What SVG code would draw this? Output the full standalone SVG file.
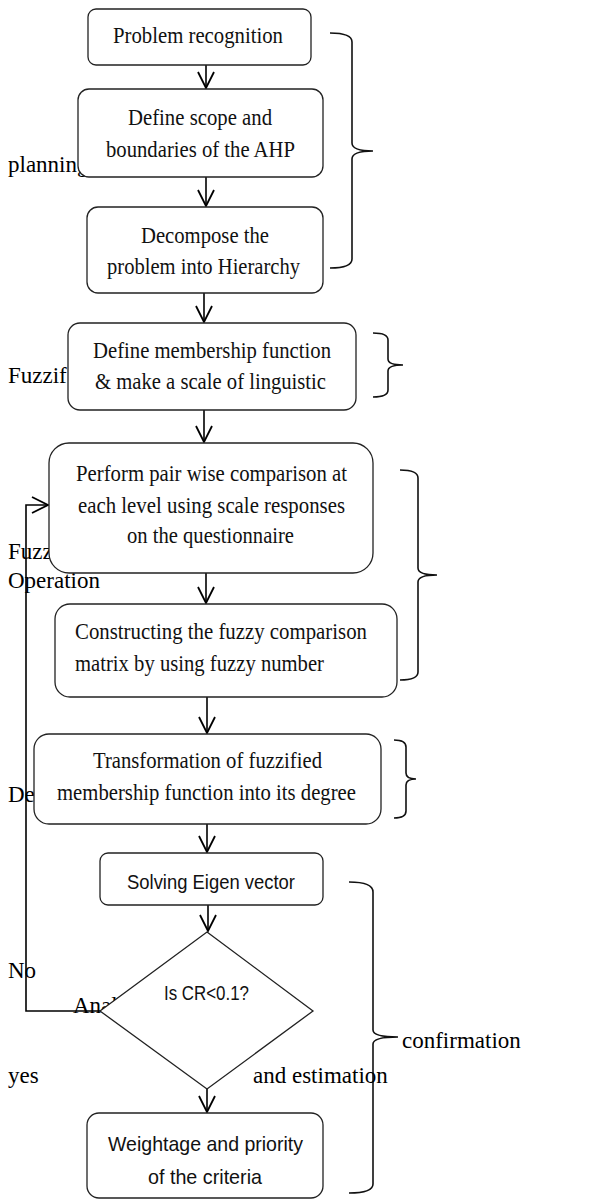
<svg xmlns="http://www.w3.org/2000/svg" width="603" height="1200" viewBox="0 0 603 1200">
<defs>
<style>
.lbl{font-family:"Liberation Serif","Times New Roman",serif;font-size:23px;fill:#000}
.bt{font-family:"Liberation Serif","Times New Roman",serif;font-size:24px;fill:#111}
.st{font-family:"Liberation Sans",Arial,sans-serif;font-size:21px;fill:#111}
.box{fill:#fff;stroke:#222;stroke-width:1.3}
.ln{fill:none;stroke:#000;stroke-width:1.6}
.br{fill:none;stroke:#111;stroke-width:1.6}
</style>
<marker id="ah" markerUnits="userSpaceOnUse" markerWidth="20" markerHeight="20" viewBox="-18 -10 20 20" refX="0" refY="0" orient="auto">
<path d="M-16,-8 L0,0 L-16,8" fill="none" stroke="#000" stroke-width="1.8"/>
</marker>
</defs>
<rect width="603" height="1200" fill="#fff"/>

<g id="labels">
<text class="lbl" x="8" y="172">planning</text>
<text class="lbl" x="8" y="383">Fuzzif</text>
<text class="lbl" x="8" y="559">Fuzzy</text>
<text class="lbl" x="8" y="588">Operation</text>
<text class="lbl" x="8" y="802">De</text>
<text class="lbl" x="8" y="978">No</text>
<text class="lbl" x="73" y="1013">Analysis</text>
<text class="lbl" x="8" y="1083">yes</text>
</g>

<g id="connectors">
<line class="ln" x1="206" y1="65" x2="206" y2="88" marker-end="url(#ah)"/>
<line class="ln" x1="206" y1="177" x2="206" y2="206" marker-end="url(#ah)"/>
<line class="ln" x1="204" y1="293" x2="204" y2="322" marker-end="url(#ah)"/>
<line class="ln" x1="204" y1="410" x2="204" y2="442" marker-end="url(#ah)"/>
<line class="ln" x1="206" y1="573" x2="206" y2="603" marker-end="url(#ah)"/>
<line class="ln" x1="207" y1="697" x2="207" y2="733" marker-end="url(#ah)"/>
<line class="ln" x1="207" y1="824" x2="207" y2="852" marker-end="url(#ah)"/>
<line class="ln" x1="208" y1="905" x2="208" y2="931" marker-end="url(#ah)"/>
<line class="ln" x1="207" y1="1089" x2="207" y2="1112" marker-end="url(#ah)"/>
<path class="ln" d="M100,1011 L26,1011 L26,505 L48,505" marker-end="url(#ah)"/>
</g>

<g id="n1"><rect class="box" x="88" y="9" width="223" height="56" rx="8"/>
<text class="bt" x="113" y="43" textLength="170" lengthAdjust="spacingAndGlyphs">Problem recognition</text></g>

<g id="n2"><rect class="box" x="78" y="89" width="245" height="88" rx="11"/>
<text class="bt" x="128" y="125" textLength="144" lengthAdjust="spacingAndGlyphs">Define scope and</text>
<text class="bt" x="106" y="157" textLength="189" lengthAdjust="spacingAndGlyphs">boundaries of the AHP</text></g>

<g id="n3"><rect class="box" x="87" y="207" width="236" height="86" rx="11"/>
<text class="bt" x="141" y="243" textLength="128" lengthAdjust="spacingAndGlyphs">Decompose the</text>
<text class="bt" x="107" y="274" textLength="193" lengthAdjust="spacingAndGlyphs">problem into Hierarchy</text></g>

<g id="n4"><rect class="box" x="68" y="323" width="288" height="87" rx="12"/>
<text class="bt" x="93" y="358" textLength="238" lengthAdjust="spacingAndGlyphs">Define membership function</text>
<text class="bt" x="95" y="389" textLength="231" lengthAdjust="spacingAndGlyphs">&amp; make a scale of linguistic</text></g>

<g id="n5"><rect class="box" x="49" y="443" width="324" height="130" rx="20"/>
<text class="bt" x="76" y="481" textLength="271" lengthAdjust="spacingAndGlyphs">Perform pair wise comparison at</text>
<text class="bt" x="78" y="513" textLength="267" lengthAdjust="spacingAndGlyphs">each level using scale responses</text>
<text class="bt" x="127" y="543" textLength="167" lengthAdjust="spacingAndGlyphs">on the questionnaire</text></g>

<g id="n6"><rect class="box" x="55" y="604" width="342" height="93" rx="15"/>
<text class="bt" x="75" y="639" textLength="292" lengthAdjust="spacingAndGlyphs">Constructing the fuzzy comparison</text>
<text class="bt" x="75" y="671" textLength="249" lengthAdjust="spacingAndGlyphs">matrix by using fuzzy number</text></g>

<g id="n7"><rect class="box" x="34" y="734" width="347" height="90" rx="15"/>
<text class="bt" x="93" y="768" textLength="229" lengthAdjust="spacingAndGlyphs">Transformation of fuzzified</text>
<text class="bt" x="57" y="800" textLength="299" lengthAdjust="spacingAndGlyphs">membership function into its degree</text></g>

<g id="n8"><rect class="box" x="100" y="853" width="223" height="52" rx="8"/>
<text class="st" x="127" y="889" textLength="168" lengthAdjust="spacingAndGlyphs">Solving Eigen vector</text></g>

<g id="n9"><path class="box" d="M207,932 L313,1011 L207,1089 L100,1011 Z"/>
<text class="st" x="164" y="1000" textLength="85" lengthAdjust="spacingAndGlyphs">Is CR&lt;0.1?</text></g>

<g id="n10"><rect class="box" x="87" y="1113" width="236" height="85" rx="12"/>
<text class="st" x="108" y="1151" textLength="195" lengthAdjust="spacingAndGlyphs">Weightage and priority</text>
<text class="st" x="148" y="1184" textLength="114" lengthAdjust="spacingAndGlyphs">of the criteria</text></g>

<g id="braces">
<path class="br" d="M330,33 Q352,33 352,42 L352,143 Q352,151 373,151 Q352,151 352,159 L352,259 Q352,268 330,268"/>
<path class="br" d="M373,333 Q388,333 388,340 L388,359 Q388,365 403,365 Q388,365 388,371 L388,390 Q388,397 373,397"/>
<path class="br" d="M400,470 Q418,470 418,478 L418,568 Q418,575 437,575 Q418,575 418,582 L418,672 Q418,680 400,680"/>
<path class="br" d="M394,740 Q406,740 406,747 L406,773 Q406,779 416,779 Q406,779 406,785 L406,811 Q406,818 394,818"/>
<path class="br" d="M349,882 Q373,882 373,892 L373,1030 Q373,1037 398,1037 Q373,1037 373,1044 L373,1184 Q373,1193 349,1193"/>
</g>

<g id="side-labels">
<text class="lbl" x="402" y="1048">confirmation</text>
<text class="lbl" x="253" y="1083">and estimation</text>
</g>
</svg>
